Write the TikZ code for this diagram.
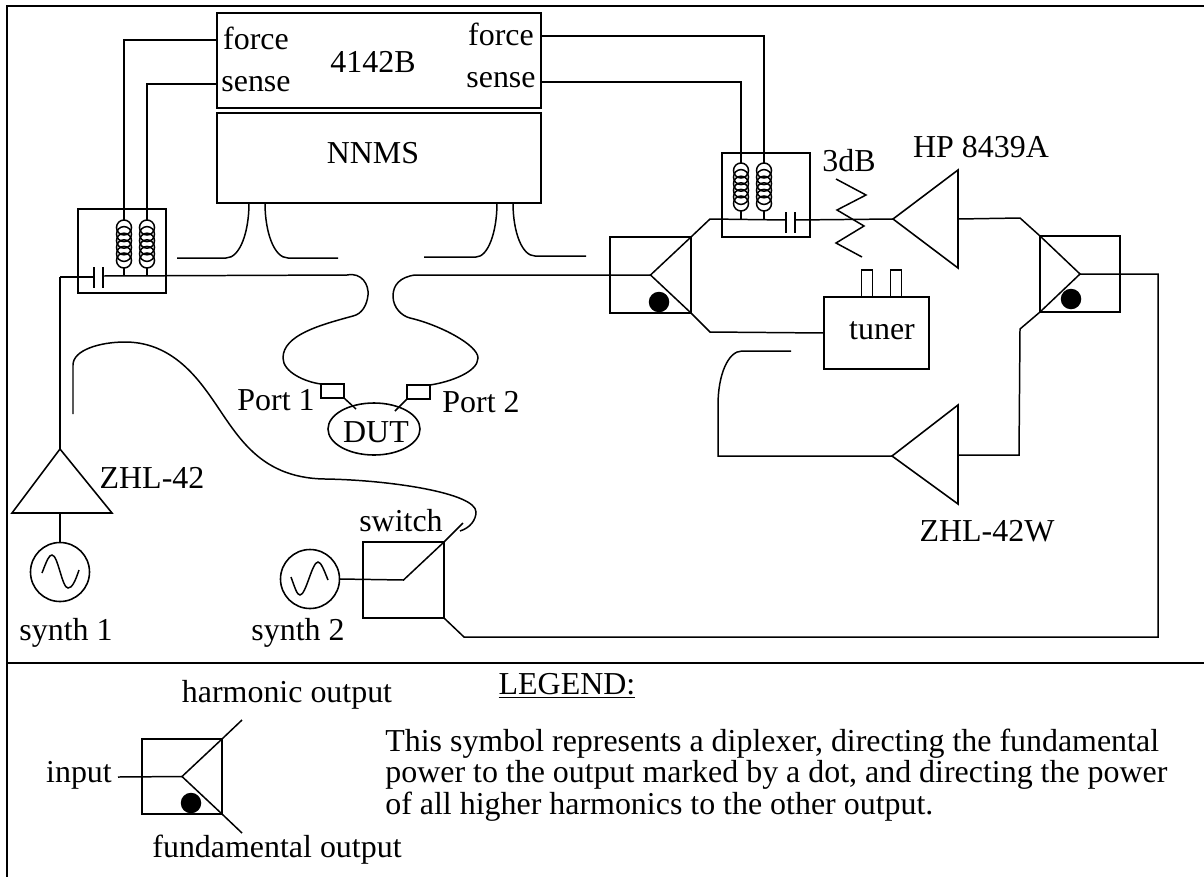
\documentclass[tikz,border=0pt]{standalone}
\usepackage{fontspec}
\setmainfont{Liberation Serif}
\usetikzlibrary{shapes.geometric}

\begin{document}
\begin{tikzpicture}[
  x=0.2mm,y=-0.2mm,
  line/.style={draw=black,line width=0.9pt},
  frame/.style={draw=black,line width=1pt},
  wire/.style={draw=black,line width=0.85pt},
  lab/.style={font=\fontsize{18.17}{18.1}\selectfont,inner sep=0pt,text=black},
  box/.style 2 args={line,inner sep=0pt,outer sep=0pt,minimum width=#1*0.2mm,minimum height=#2*0.2mm},
  src/.style={line,circle,inner sep=0pt,outer sep=0pt,minimum size=11.8mm},
  dot/.style={circle,fill=black,inner sep=0pt,outer sep=0pt,minimum size=4.1mm},
]
\useasboundingbox (0,0) rectangle (1204,877);

\draw[frame] (1204,6) -- (7,6) -- (7,877);
\draw[frame] (7,663) -- (1204,663);

\node[box={324}{95}] (hp) at (379,60.5) {};
\node[box={324}{90}] (nnms) at (379,158) {};
\node[lab] (hptext) at (373,62) {4142B};
\node[lab] (nnmstext) at (373,153) {NNMS};
\node[lab] (forceA) at (256,38.5) {force};
\node[lab] (senseA) at (256,84) {sense};
\node[lab] (forceB) at (501,34) {force};
\node[lab] (senseB) at (501,80) {sense};
\coordinate (hpfa) at (217,40);
\coordinate (hpsa) at (217,84);
\coordinate (hpfb) at (541,36);
\coordinate (hpsb) at (541,82);

\node[box={88}{84}] (teeA) at (122,251) {};
\node[box={88}{84}] (teeB) at (766,195) {};
\foreach \cx/\cy/\cb in {124/220/276,147/220/276,741/163/220,764/163/220} {
  \node[inner sep=0pt,outer sep=0pt,minimum width=3mm,minimum height=9.6mm] (coil\cx) at (\cx,\cy+24) {};
  \foreach \k in {0,...,5}
    \draw[wire] (\cx,\cy+7.5+\k*6.6) circle[radius=7.5];
  \draw[wire] (coil\cx.south) -- (\cx,\cb);
}
\draw[wire] (hpfa) -| (coil124.north);
\draw[wire] (hpsa) -| (coil147.north);
\draw[wire] (hpfb) -| (coil764.north);
\draw[wire] (hpsb) -| (coil741.north);

\draw[line] (94,267) -- (94,288);
\draw[line] (103,267) -- (103,288);
\draw[line] (786,212) -- (786,233);
\draw[line] (795,212) -- (795,233);

\draw[wire] (249,203) .. controls (249,232) and (240,258) .. (226,258) -- (177,258);
\draw[wire] (265,203) .. controls (265,232) and (274,258) .. (288,258) -- (338,258);
\draw[wire] (497,203) .. controls (497,232) and (488,257) .. (476,257) -- (424,257);
\draw[wire] (513,203) .. controls (513,232) and (522,256) .. (535,256) -- (586,256);

\node[box={23}{14}] (portA) at (332.5,391) {};
\node[box={23}{14}] (portB) at (418.5,392) {};
\node[line,ellipse,inner sep=0pt,outer sep=0pt,minimum width=18.4mm,minimum height=10.4mm] (dut) at (374,429) {};
\node[lab] (duttext) at (376,432) {DUT};
\node[lab] (porttextA) at (276,400) {Port 1};
\node[lab] (porttextB) at (481,402) {Port 2};
\draw[wire] (portA.south east) -- (356,409);
\draw[wire] (portB.south west) -- (395,411);

\node[box={81}{76}] (dipA) at (650.5,275) {};
\node[dot] (dotA) at (659,302) {};
\draw[wire] (dipA.north east) -- (dipA.center) -- (dipA.south east);
\node[box={80}{76}] (dipB) at (1080,274) {};
\node[dot] (dotB) at (1071,299) {};
\draw[wire] (dipB.north west) -- (dipB.center) -- (dipB.south west);

\draw[wire] (60,277) -- (94,277);
\draw[wire] (103,276) -- (347,275) .. controls (362,272) and (369,285) .. (368,295)
  .. controls (367,305) and (362,314) .. (353,316)
  .. controls (320,325) and (283,335) .. (283,358)
  .. controls (283,372) and (305,382) .. (portA.north west);
\draw[wire] (dipA.center) -- (415,275) .. controls (400,277) and (393,285) .. (393,296)
  .. controls (393,308) and (402,316) .. (410,318)
  .. controls (440,325) and (478,345) .. (478,358)
  .. controls (478,372) and (450,382) .. (portB.north east);

\draw[wire] (dipA.north east) -- (710,219) -- (786,220);
\draw[wire] (795,220) -- (893,219);
\draw[wire] (836,179) -- (866,195) -- (837,210) -- (864,226) -- (836,243) -- (862,257);
\node[lab] (attext) at (849,161) {3dB};

\coordinate (ampAtip) at (893,219);
\coordinate (ampAup) at (958,170);
\coordinate (ampAdn) at (958,268);
\coordinate (ampBtip) at (892,456);
\coordinate (ampBup) at (958,405);
\coordinate (ampBdn) at (958,504);
\coordinate (ampCtip) at (60,449);
\coordinate (ampCup) at (12,513);
\coordinate (ampCdn) at (112,513);
\foreach \a in {A,B,C}
  \draw[line] (amp\a tip) -- (amp\a up) -- (amp\a dn) -- cycle;
\node[lab] (amptextA) at (981,147) {HP 8439A};
\node[lab] (amptextB) at (987,531) {ZHL-42W};
\node[lab] (amptextC) at (152,478) {ZHL-42};

\node[box={105}{72}] (tuner) at (876.5,333) {};
\node[lab] (tunertext) at (882,331) {tuner};
\node[box={11}{27}] (stubA) at (867,283.5) {};
\node[box={11}{27}] (stubB) at (896,283.5) {};
\draw[wire] (dipA.south east) -- (710,332) -- (tuner.west);

\draw[wire] (958,219) -- (1020,218) -- (dipB.north west);
\draw[wire] (dipB.south west) -- (1020,329) -- (1019,455) -- (958,455);
\draw[wire] (ampBtip) -- (718,456) -- (718,405) .. controls (718,375) and (728,351) .. (742,351) -- (791,351);

\node[src] (synA) at (60,572) {};
\node[src] (synB) at (310,579) {};
\node[lab] (syntextA) at (66,633) {synth 1};
\node[lab] (syntextB) at (298,633) {synth 2};
\draw[wire] (42,573) .. controls (47,560) and (49,555) .. (52,555)
  .. controls (58,555) and (62,588) .. (68,588)
  .. controls (72,588) and (75,582) .. (79,570);
\draw[wire] (291,577) .. controls (295,588) and (297,595) .. (300,595)
  .. controls (306,595) and (312,562) .. (318,562)
  .. controls (321,562) and (324,570) .. (328,580);
\draw[wire] (synA.north) -- (60,513);
\draw[wire] (ampCtip) -- (60,277);

\node[box={81}{76}] (switch) at (403.5,580) {};
\node[lab] (switchtext) at (401,521) {switch};
\coordinate (switchend) at (463,523);
\draw[wire] (synB.east) -- (switch.center) -- (switch.north east) -- (switchend);
\draw[wire] (switch.south east) -- (464,637) -- (1158,637) -- (1158,274) -- (dipB.center);

\draw[wire] (73,414) -- (73,365) .. controls (73,350) and (100,342) .. (125,342)
  .. controls (165,342) and (190,368) .. (208,393)
  .. controls (235,430) and (255,478) .. (325,479)
  .. controls (390,480) and (476,493) .. (476,512)
  .. controls (476,520) and (470,528) .. (460,531);

\node[lab] (legtitle) at (567,686) {\underline{LEGEND:}};
\node[lab,anchor=west,align=left] (legtext) at (385,775)
  {This symbol represents a diplexer, directing the fundamental\\
   power to the output marked by a dot, and directing the power\\
   of all higher harmonics to the other output.};
\node[box={80}{75}] (dipK) at (182,776.5) {};
\node[dot] (dotK) at (191,803) {};
\coordinate (harmend) at (242,720);
\coordinate (fundend) at (242,833);
\coordinate (inputend) at (118,777);
\draw[wire] (harmend) -- (dipK.north east) -- (dipK.center) -- (dipK.south east) -- (fundend);
\draw[wire] (inputend) -- (dipK.center);
\node[lab] (harmtext) at (287,695) {harmonic output};
\node[lab] (fundtext) at (277,850) {fundamental output};
\node[lab] (inputtext) at (79,775) {input};

\end{tikzpicture}
\end{document}
